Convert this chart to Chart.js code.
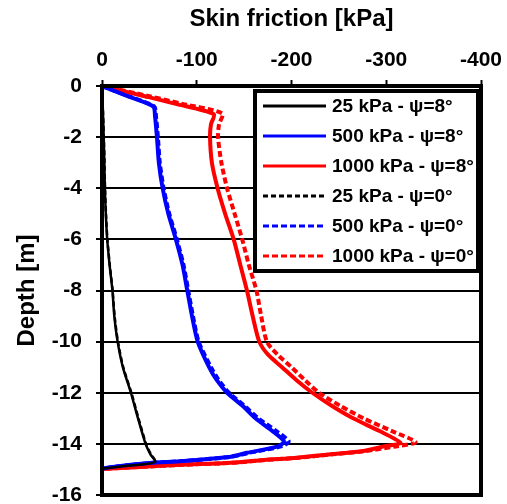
<!DOCTYPE html>
<html>
<head>
<meta charset="utf-8">
<script src="https://cdn.jsdelivr.net/npm/chart.js@4/dist/chart.umd.min.js"></script>
<style>
  html, body { margin: 0; padding: 0; background: #fff; }
  canvas { display: block; }
</style>
</head>
<body>
<canvas id="skin-chart" width="507" height="504"></canvas>
<script>
// series labels (legend order)
const seriesLabels = [
    '25 kPa - ψ=8°', '500 kPa - ψ=8°', '1000 kPa - ψ=8°',
    '25 kPa - ψ=0°', '500 kPa - ψ=0°', '1000 kPa - ψ=0°'
];

// 25 kPa (depth in m, skin friction in kPa)
const depth25 = [0, -1, -2, -3, -4, -5, -6, -7, -8, -9, -10, -11, -12, -13, -14, -14.4, -14.71, -14.85, -14.97];
const fric25psi8 = [0, -1, -1.8, -2.5, -3, -4, -5.5, -8, -11, -13, -16.5, -22, -30.5, -38, -46, -51, -56, -30, 0];
const fric25psi0 = [0, -1, -1.9, -2.6, -3.2, -4.2, -5.7, -8.2, -11.2, -13.3, -16.8, -22.4, -31, -38.5, -46.5, -51.5, -56.5, -31, 0];

// 500 kPa
const depth500 = [0, -0.4, -0.8, -1.2, -2, -3, -4, -5, -6, -7, -8, -9, -10, -11, -11.5, -12, -12.5, -13, -13.5, -13.9, -14.1, -14.35, -14.5, -14.67, -14.75, -14.88, -14.97];
const fric500psi8 = [0, -27, -54, -56, -58, -60, -64, -70, -78, -85, -90, -95, -101, -113, -121, -132, -148, -162, -180, -192, -186, -153, -136, -85, -50, -15, 0];
const fric500psi0 = [0, -28, -55, -57, -59, -61, -65, -71, -79, -86, -91, -96, -102, -115, -123, -134, -150, -165, -184, -197, -189, -155, -137, -87, -51, -16, 0];

// 1000 kPa
const depth1000psi8 = [0, -0.4, -0.7, -1.1, -1.5, -2, -3, -4, -5, -6, -7, -8, -9, -10, -10.5, -11, -11.5, -12, -12.5, -13, -13.5, -13.96, -14.08, -14.28, -14.41, -14.54, -14.63, -14.74, -14.82, -14.9, -14.98];
const fric1000psi8 = [0, -45, -78, -118, -115, -114, -116, -122, -130, -139, -146, -153, -159, -166, -175, -190, -205, -222, -242, -265, -293, -315, -300, -276, -241, -206, -171, -136, -83, -40, 0];
const depth1000psi0 = [0, -0.4, -0.7, -1.07, -1.5, -2, -3, -4, -5, -6, -7, -8, -9, -10, -10.5, -11, -11.5, -12, -12.5, -13, -13.5, -13.93, -14.1, -14.28, -14.41, -14.54, -14.63, -14.74, -14.82, -14.9, -14.98];
const fric1000psi0 = [0, -50, -85, -127, -123.5, -122.5, -126, -132, -140, -148, -155, -163, -168, -174, -185, -200, -214, -229, -251, -276, -306, -331, -310, -278, -243, -208, -173, -138, -85, -42, 0];

// axis ticks
const xTicks = [0, -100, -200, -300, -400];
const yTicks = [0, -2, -4, -6, -8, -10, -12, -14, -16];

function toPoints(depth, fric) {
    return depth.map((d, i) => ({ x: fric[i], y: d }));
}

function makeSet(label, depth, fric, color, width, dash) {
    return {
        label: label,
        data: toPoints(depth, fric),
        showLine: true,
        borderColor: color,
        backgroundColor: color,
        borderWidth: width,
        borderDash: dash,
        pointRadius: 0,
        tension: 0.25,
        fill: false
    };
}

// frame round the plot area
const framePlugin = {
    id: 'frame',
    afterDatasetsDraw(chart) {
        const { ctx, chartArea } = chart;
        ctx.save();
        ctx.strokeStyle = '#000';
        ctx.lineWidth = 4;
        ctx.strokeRect(chartArea.left, chartArea.top, chartArea.right - chartArea.left, chartArea.bottom - chartArea.top);
        ctx.restore();
    }
};

// boxed legend inside the plot, top right
const boxLegend = {
    id: 'boxLegend',
    afterDraw(chart) {
        const { ctx, chartArea } = chart;
        const sets = chart.data.datasets;
        const rowH = 30;
        const right = chartArea.right - 3;
        const left = right - 223;
        const top = chartArea.top + 5;
        const bottom = top + sets.length * rowH;
        ctx.save();
        ctx.fillStyle = '#fff';
        ctx.fillRect(left, top, right - left, bottom - top);
        ctx.strokeStyle = '#000';
        ctx.lineWidth = 4;
        ctx.strokeRect(left, top, right - left, bottom - top);
        ctx.font = 'bold 19px "Liberation Sans", Arial, sans-serif';
        ctx.textBaseline = 'middle';
        ctx.textAlign = 'left';
        sets.forEach((ds, i) => {
            const y = top + rowH / 2 + i * rowH;
            ctx.beginPath();
            ctx.setLineDash(ds.borderDash || []);
            ctx.lineWidth = 3;
            ctx.strokeStyle = ds.borderColor;
            ctx.moveTo(left + 8, y);
            ctx.lineTo(left + 71, y);
            ctx.stroke();
            ctx.setLineDash([]);
            ctx.fillStyle = '#000';
            ctx.fillText(ds.label, left + 77, y + 1);
        });
        ctx.restore();
    }
};

Chart.defaults.font.family = '"Liberation Sans", Arial, sans-serif';
Chart.defaults.color = '#000';

const canvas = document.querySelector('#skin-chart');
new Chart(canvas.getContext('2d'), {
    type: 'scatter',
    data: {
        datasets: [
            makeSet(seriesLabels[0], depth25, fric25psi8, '#000000', 2.5, []),
            makeSet(seriesLabels[1], depth500, fric500psi8, '#0000ff', 4, []),
            makeSet(seriesLabels[2], depth1000psi8, fric1000psi8, '#ff0000', 4, []),
            makeSet(seriesLabels[3], depth25, fric25psi0, '#000000', 2.5, [5, 3]),
            makeSet(seriesLabels[4], depth500, fric500psi0, '#0000ff', 4, [6, 3]),
            makeSet(seriesLabels[5], depth1000psi0, fric1000psi0, '#ff0000', 4, [6, 3])
        ]
    },
    options: {
        responsive: false,
        animation: false,
        layout: { padding: { top: 0, left: 0, right: 26, bottom: 9 } },
        plugins: {
            legend: { display: false },
            tooltip: { enabled: false }
        },
        scales: {
            x: {
                type: 'linear',
                position: 'top',
                min: -400,
                max: 0,
                reverse: true,
                afterBuildTicks: s => { s.ticks = xTicks.map(v => ({ value: v })); },
                ticks: { color: '#000', font: { size: 21, weight: 'bold' }, padding: 7, maxRotation: 0 },
                grid: { drawOnChartArea: false, drawTicks: true, tickLength: 6, tickWidth: 2, tickColor: '#000' },
                border: { display: false },
                title: {
                    display: true,
                    text: 'Skin friction [kPa]',
                    color: '#000',
                    font: { size: 24, weight: 'bold' },
                    padding: { top: 5, bottom: 0 }
                },
                afterFit: s => { s.height = 86; s.paddingLeft = 0; s.paddingRight = 0; }
            },
            y: {
                type: 'linear',
                min: -16,
                max: 0,
                afterBuildTicks: s => { s.ticks = yTicks.map(v => ({ value: v })); },
                ticks: { color: '#000', font: { size: 21, weight: 'bold' }, padding: 14 },
                grid: { color: '#000', lineWidth: 2, drawTicks: true, tickLength: 6, tickColor: '#000' },
                border: { display: false },
                title: {
                    display: true,
                    text: 'Depth [m]',
                    color: '#000',
                    font: { size: 24, weight: 'bold' },
                    padding: { top: 13, bottom: 0 }
                },
                afterFit: s => { s.width = 102; s.paddingTop = 0; s.paddingBottom = 0; }
            }
        }
    },
    plugins: [framePlugin, boxLegend]
});
</script>
</body>
</html>
